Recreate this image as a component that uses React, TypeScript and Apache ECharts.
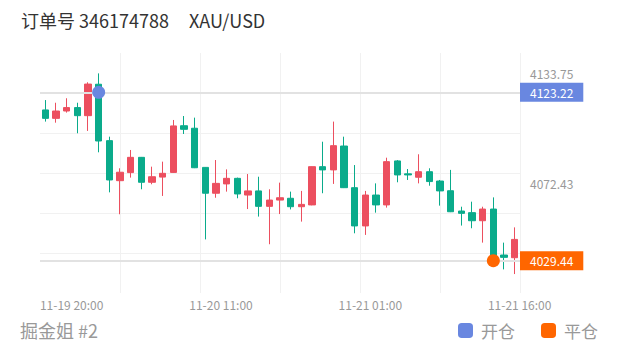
import React, { useEffect, useRef } from 'react';
import * as echarts from 'echarts';

const categories = [
  '11-19 18:00', '11-19 19:00', '11-19 20:00', '11-19 21:00', '11-19 22:00', '11-19 23:00',
  '11-20 01:00', '11-20 02:00', '11-20 03:00', '11-20 04:00', '11-20 05:00', '11-20 06:00',
  '11-20 07:00', '11-20 08:00', '11-20 09:00', '11-20 10:00', '11-20 11:00', '11-20 12:00',
  '11-20 13:00', '11-20 14:00', '11-20 15:00', '11-20 16:00', '11-20 17:00', '11-20 18:00',
  '11-20 19:00', '11-20 20:00', '11-20 21:00', '11-20 22:00', '11-20 23:00', '11-21 00:00',
  '11-21 01:00', '11-21 02:00', '11-21 03:00', '11-21 04:00', '11-21 05:00', '11-21 06:00',
  '11-21 07:00', '11-21 08:00', '11-21 10:00', '11-21 11:00', '11-21 12:00', '11-21 13:00',
  '11-21 14:00', '11-21 15:00', '11-21 16:00',
];
const labelIndices = [2, 16, 30, 44];

const opens = [
  4113.4, 4108.7, 4112.8, 4114.7, 4110.2, 4127.7, 4096.3, 4074.0, 4078.5, 4087.0,
  4073.1, 4076.0, 4078.6, 4104.6, 4103.2, 4081.4, 4067.0, 4072.2, 4075.3, 4066.0,
  4068.3, 4059.7, 4063.2, 4064.2, 4059.5, 4060.5, 4081.8, 4080.0, 4093.3, 4070.1,
  4048.8, 4066.0, 4060.5, 4085.0, 4077.8, 4075.9, 4079.0, 4073.8, 4068.4, 4057.1,
  4056.2, 4051.7, 4058.2, 4032.6, 4031.1,
];
const closes = [
  4108.7, 4112.8, 4114.7, 4110.2, 4127.8, 4096.1, 4074.4, 4078.7, 4087.0, 4073.1,
  4076.2, 4078.1, 4104.5, 4102.6, 4081.2, 4067.0, 4072.5, 4075.3, 4066.6, 4068.3,
  4059.7, 4063.2, 4064.5, 4059.5, 4060.8, 4081.8, 4080.0, 4093.5, 4070.1, 4048.8,
  4066.0, 4060.5, 4084.6, 4077.2, 4077.2, 4079.0, 4073.5, 4068.3, 4056.7, 4055.8,
  4051.7, 4058.2, 4030.0, 4031.3, 4041.3,
];
const lows = [
  4106.9, 4106.3, 4111.9, 4100.4, 4101.7, 4089.8, 4067.5, 4055.3, 4075.7, 4069.2,
  4072.0, 4065.5, 4078.4, 4100.0, 4081.0, 4041.3, 4064.5, 4067.9, 4064.2, 4058.2,
  4054.0, 4038.6, 4055.4, 4058.0, 4051.2, 4060.3, 4067.0, 4072.2, 4069.9, 4044.7,
  4043.8, 4056.2, 4059.0, 4073.1, 4074.4, 4072.5, 4071.2, 4060.1, 4056.5, 4049.0,
  4047.5, 4039.5, 4029.0, 4024.6, 4022.0,
];
const highs = [
  4118.9, 4117.4, 4119.9, 4117.4, 4128.8, 4133.75, 4098.5, 4080.9, 4091.1, 4087.2,
  4081.8, 4084.6, 4107.8, 4110.0, 4109.1, 4081.6, 4085.5, 4080.3, 4075.7, 4077.7,
  4076.2, 4069.2, 4072.9, 4067.9, 4068.3, 4081.9, 4095.7, 4106.9, 4098.5, 4082.7,
  4068.3, 4072.5, 4086.8, 4085.5, 4080.5, 4088.7, 4080.9, 4074.4, 4080.0, 4059.5,
  4062.3, 4059.5, 4064.7, 4039.5, 4048.0,
];

const openIndex = 5;
const openPrice = 4123.22;
const closeIndex = 42;
const closePrice = 4029.44;
const refLabels = [4133.75, 4072.43];

const priceMin = 4011.45;
const priceMax = 4145.1;

const UP = '#ec4f5f';
const DOWN = '#0aab8b';
const BLUE = '#6987e0';
const ORANGE = '#ff6600';
const GRID_LINE = '#f1f1f1';
const FONT = "'Noto Sans CJK SC', 'Noto Sans', sans-serif";

export default function App() {
  const ref = useRef<HTMLDivElement>(null);
  useEffect(() => {
    document.body.style.margin = '0';
    const chart = echarts.init(ref.current!, null, { renderer: 'svg' });
    const candleData = opens.map((o, i) => [o, closes[i], lows[i], highs[i]]);
    const none = 'rgba(0,0,0,0)';
    const priceLabel = (extra: any) => ({
      show: true,
      position: 'end',
      distance: 0,
      padding: [3, 10, 3, 10],
      fontSize: 12,
      lineHeight: 13,
      fontFamily: FONT,
      formatter: (p: any) => Number(p.value).toFixed(2),
      ...extra,
    });
    const option: any = {
      animation: false,
      textStyle: { fontFamily: FONT },
      title: [
        {
          text: '{a|订单号 346174788}{b|XAU/USD}',
          left: 21,
          top: 11,
          padding: 0,
          textStyle: {
            fontWeight: 'normal',
            rich: {
              a: { fontSize: 18, color: '#333', fontWeight: 'normal', fontFamily: FONT },
              b: { fontSize: 18, color: '#333', fontWeight: 'normal', fontFamily: FONT, padding: [0, 0, 0, 20] },
            },
          },
        },
        {
          text: '掘金姐 #2',
          left: 20,
          top: 321,
          padding: 0,
          textStyle: { fontSize: 18, color: '#999', fontWeight: 'normal', fontFamily: FONT },
        },
      ],
      legend: {
        data: ['开仓', '平仓'],
        icon: 'roundRect',
        itemWidth: 15,
        itemHeight: 15,
        itemGap: 26,
        right: 22,
        top: 322,
        padding: 0,
        textStyle: { fontSize: 17, color: '#999', padding: [0, 0, 0, 3], fontFamily: FONT },
      },
      grid: { left: 40, right: 100, top: 53, bottom: 59 },
      xAxis: [
        {
          type: 'category',
          data: categories,
          boundaryGap: true,
          axisLine: { show: false },
          axisTick: { show: false },
          splitLine: { show: false },
          axisLabel: {
            interval: (index: number) => labelIndices.includes(index),
            color: '#999',
            fontSize: 12,
            margin: 5,
            padding: [0, 0, 0, 10],
            fontFamily: FONT,
          },
        },
        {
          type: 'value',
          min: 0,
          max: 6,
          interval: 1,
          axisLine: { show: false },
          axisTick: { show: false },
          axisLabel: { show: false },
          splitLine: {
            show: true,
            lineStyle: { color: [none, GRID_LINE, GRID_LINE, GRID_LINE, GRID_LINE, GRID_LINE, GRID_LINE], width: 1 },
          },
        },
      ],
      yAxis: [
        {
          type: 'value',
          min: priceMin,
          max: priceMax,
          scale: true,
          axisLine: { show: false },
          axisTick: { show: false },
          axisLabel: { show: false },
          splitLine: { show: false },
        },
        {
          type: 'value',
          min: 0,
          max: 6,
          interval: 1,
          axisLine: { show: false },
          axisTick: { show: false },
          axisLabel: { show: false },
          splitLine: {
            show: true,
            lineStyle: { color: [none, GRID_LINE, GRID_LINE, GRID_LINE, GRID_LINE, GRID_LINE, none], width: 1 },
          },
        },
      ],
      series: [
        {
          type: 'candlestick',
          xAxisIndex: 0,
          yAxisIndex: 0,
          data: candleData,
          barWidth: 7,
          itemStyle: { color: UP, color0: DOWN, borderColor: UP, borderColor0: DOWN, borderWidth: 1 },
          markLine: {
            symbol: 'none',
            silent: true,
            precision: 2,
            data: [
              ...refLabels.map((v) => ({
                yAxis: v,
                lineStyle: { color: none, width: 1 },
                label: priceLabel({ color: '#999' }),
              })),
              {
                yAxis: openPrice,
                lineStyle: { color: '#e2e2e2', width: 2, type: 'solid' },
                label: priceLabel({ color: '#fff', backgroundColor: BLUE }),
              },
              {
                yAxis: closePrice,
                lineStyle: { color: '#e2e2e2', width: 2, type: 'solid' },
                label: priceLabel({ color: '#fff', backgroundColor: ORANGE }),
              },
            ],
          },
        },
        {
          name: '开仓',
          type: 'scatter',
          xAxisIndex: 0,
          yAxisIndex: 0,
          symbolSize: 13,
          z: 5,
          itemStyle: { color: BLUE, opacity: 1 },
          data: [[openIndex, openPrice]],
        },
        {
          name: '平仓',
          type: 'scatter',
          xAxisIndex: 0,
          yAxisIndex: 0,
          symbolSize: 13,
          z: 5,
          itemStyle: { color: ORANGE, opacity: 1 },
          data: [[closeIndex, closePrice]],
        },
      ],
    };
    chart.setOption(option);
    return () => chart.dispose();
  }, []);
  return <div ref={ref} style={{ width: 620, height: 352 }} />;
}
